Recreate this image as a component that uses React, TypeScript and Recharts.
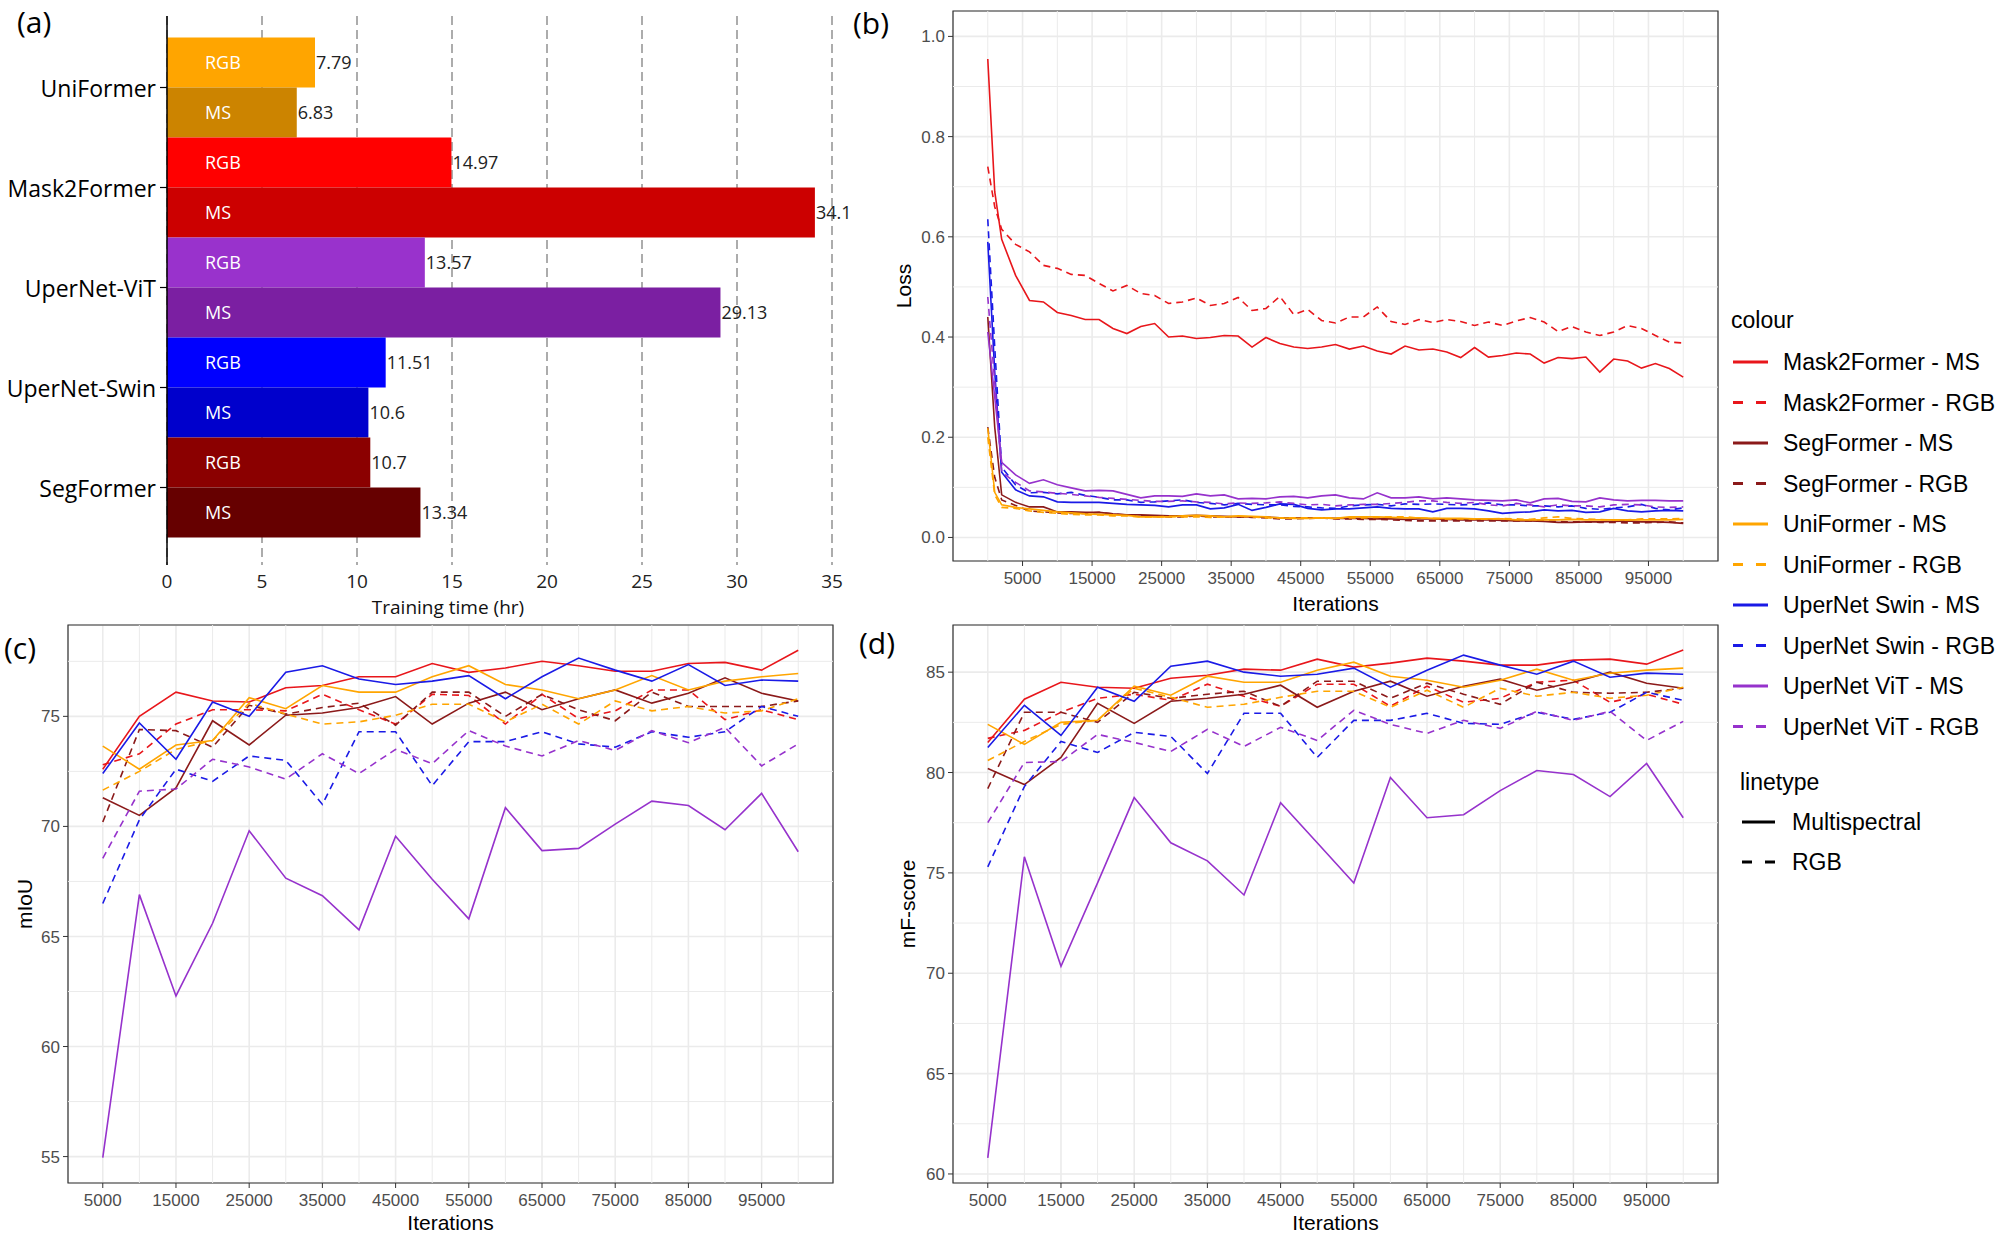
import React from 'react';
import {
  BarChart, Bar, Cell, LabelList, LineChart, Line, XAxis, YAxis,
  CartesianGrid, ReferenceLine, ReferenceArea, Label,
} from 'recharts';

const SANS = '"Liberation Sans", Arial, sans-serif';
const OPEN = '"Open Sans", "Noto Sans", sans-serif';

// ---------- (a) training time ----------
const models = ['UniFormer', 'Mask2Former', 'UperNet-ViT', 'UperNet-Swin', 'SegFormer'];
const rgbHours = [7.79, 14.97, 13.57, 11.51, 10.7];
const msHours = [6.83, 34.1, 29.13, 10.6, 13.34];
const rgbBarColors = ['#FFA500', '#FF0000', '#9932CC', '#0000FF', '#8B0000'];
const msBarColors = ['#CC8400', '#CC0000', '#7B1FA2', '#0000CC', '#660000'];
const hourTicks = [0, 5, 10, 15, 20, 25, 30, 35];

const barRows = models.flatMap((m, i) => [
  { key: m + ' RGB', mode: 'RGB', hours: rgbHours[i], color: rgbBarColors[i] },
  { key: m + ' MS', mode: 'MS', hours: msHours[i], color: msBarColors[i] },
]);

// ---------- series ----------
const seriesKeys = ['m2fMS', 'm2fRGB', 'segMS', 'segRGB', 'uniMS', 'uniRGB', 'swinMS', 'swinRGB', 'vitMS', 'vitRGB'];
const seriesNames = [
  'Mask2Former - MS', 'Mask2Former - RGB', 'SegFormer - MS', 'SegFormer - RGB',
  'UniFormer - MS', 'UniFormer - RGB', 'UperNet Swin - MS', 'UperNet Swin - RGB',
  'UperNet ViT - MS', 'UperNet ViT - RGB',
];
const seriesColors = ['#E8161B', '#E8161B', '#8B1A1A', '#8B1A1A', '#FFA500', '#FFA500', '#1A1AE6', '#1A1AE6', '#9632CC', '#9632CC'];
const seriesDashed = [false, true, false, true, false, true, false, true, false, true];

const iterTicks = [5000, 15000, 25000, 35000, 45000, 55000, 65000, 75000, 85000, 95000];

// ---------- (b) loss ----------
const lossIters = [0, 1000, 2000, 4000, 6000, 8000, 10000, 12000, 14000, 16000, 18000, 20000, 22000, 24000, 26000,
  28000, 30000, 32000, 34000, 36000, 38000, 40000, 42000, 44000, 46000, 48000, 50000, 52000, 54000, 56000, 58000,
  60000, 62000, 64000, 66000, 68000, 70000, 72000, 74000, 76000, 78000, 80000, 82000, 84000, 86000, 88000, 90000,
  92000, 94000, 96000, 98000, 100000];
const lossM2fMS = [0.955, 0.69, 0.595, 0.523, 0.473, 0.47, 0.449, 0.443, 0.435, 0.435, 0.417, 0.407, 0.421, 0.427, 0.40,
  0.402, 0.397, 0.399, 0.403, 0.402, 0.38, 0.399, 0.387, 0.38, 0.377, 0.38, 0.385, 0.376, 0.382, 0.372, 0.366, 0.382,
  0.374, 0.376, 0.37, 0.359, 0.379, 0.36, 0.363, 0.368, 0.366, 0.348, 0.359, 0.357, 0.36, 0.33, 0.356, 0.352, 0.338,
  0.347, 0.337, 0.32];
const lossM2fRGB = [0.74, 0.66, 0.615, 0.585, 0.57, 0.543, 0.537, 0.525, 0.523, 0.507, 0.492, 0.503, 0.487, 0.483, 0.467,
  0.47, 0.478, 0.463, 0.467, 0.479, 0.453, 0.457, 0.481, 0.445, 0.455, 0.433, 0.428, 0.44, 0.44, 0.46, 0.431, 0.425,
  0.435, 0.429, 0.435, 0.431, 0.423, 0.43, 0.423, 0.432, 0.439, 0.43, 0.411, 0.421, 0.41, 0.403, 0.41, 0.423, 0.417,
  0.403, 0.39, 0.388];
const lossSegMS = [0.44, 0.22, 0.085, 0.07, 0.061, 0.061, 0.051, 0.051, 0.05, 0.05, 0.047, 0.045, 0.045, 0.044, 0.043,
  0.043, 0.044, 0.043, 0.042, 0.041, 0.041, 0.041, 0.039, 0.039, 0.039, 0.039, 0.038, 0.038, 0.038, 0.037, 0.037, 0.036,
  0.037, 0.037, 0.036, 0.035, 0.035, 0.035, 0.034, 0.033, 0.033, 0.032, 0.03, 0.03, 0.031, 0.031, 0.032, 0.033, 0.031,
  0.031, 0.03, 0.028];
const lossSegRGB = [0.22, 0.12, 0.075, 0.064, 0.053, 0.051, 0.049, 0.048, 0.048, 0.05, 0.047, 0.045, 0.043, 0.042, 0.041,
  0.041, 0.043, 0.041, 0.041, 0.041, 0.04, 0.039, 0.037, 0.037, 0.038, 0.039, 0.037, 0.037, 0.036, 0.036, 0.035, 0.034,
  0.033, 0.033, 0.033, 0.033, 0.033, 0.033, 0.033, 0.033, 0.033, 0.033, 0.032, 0.031, 0.031, 0.03, 0.03, 0.029, 0.029,
  0.03, 0.031, 0.029];
const lossUniMS = [0.218, 0.09, 0.065, 0.06, 0.057, 0.054, 0.051, 0.049, 0.047, 0.046, 0.045, 0.044, 0.041, 0.041, 0.041,
  0.043, 0.044, 0.043, 0.041, 0.043, 0.042, 0.041, 0.039, 0.038, 0.038, 0.039, 0.038, 0.041, 0.041, 0.041, 0.04, 0.039,
  0.039, 0.038, 0.038, 0.038, 0.037, 0.037, 0.037, 0.035, 0.035, 0.035, 0.035, 0.036, 0.035, 0.035, 0.035, 0.035, 0.035,
  0.035, 0.035, 0.036];
const lossUniRGB = [0.20, 0.085, 0.06, 0.058, 0.053, 0.05, 0.048, 0.046, 0.045, 0.045, 0.043, 0.043, 0.041, 0.041, 0.042,
  0.041, 0.041, 0.04, 0.041, 0.042, 0.041, 0.039, 0.039, 0.039, 0.039, 0.039, 0.039, 0.039, 0.039, 0.04, 0.041, 0.041,
  0.039, 0.038, 0.037, 0.037, 0.037, 0.037, 0.038, 0.037, 0.036, 0.039, 0.041, 0.038, 0.037, 0.036, 0.035, 0.035, 0.037,
  0.037, 0.037, 0.038];
const lossSwinMS = [0.59, 0.33, 0.13, 0.095, 0.083, 0.081, 0.071, 0.07, 0.07, 0.07, 0.068, 0.066, 0.065, 0.064, 0.061,
  0.065, 0.065, 0.057, 0.059, 0.066, 0.054, 0.06, 0.067, 0.066, 0.058, 0.055, 0.057, 0.057, 0.059, 0.061, 0.058, 0.057,
  0.057, 0.051, 0.058, 0.058, 0.057, 0.053, 0.048, 0.05, 0.051, 0.055, 0.053, 0.054, 0.05, 0.051, 0.058, 0.053, 0.051,
  0.053, 0.054, 0.053];
const lossSwinRGB = [0.635, 0.38, 0.14, 0.105, 0.089, 0.09, 0.087, 0.09, 0.084, 0.08, 0.075, 0.075, 0.07, 0.071, 0.073,
  0.075, 0.07, 0.068, 0.065, 0.068, 0.066, 0.065, 0.065, 0.062, 0.061, 0.059, 0.058, 0.063, 0.065, 0.066, 0.063, 0.067,
  0.066, 0.067, 0.066, 0.065, 0.066, 0.069, 0.065, 0.065, 0.063, 0.063, 0.061, 0.063, 0.058, 0.056, 0.059, 0.061, 0.066,
  0.058, 0.055, 0.059];
const lossVitMS = [0.41, 0.28, 0.15, 0.125, 0.108, 0.115, 0.105, 0.099, 0.093, 0.094, 0.093, 0.086, 0.079, 0.083, 0.083,
  0.082, 0.087, 0.083, 0.085, 0.077, 0.078, 0.077, 0.081, 0.082, 0.079, 0.083, 0.085, 0.079, 0.077, 0.089, 0.079, 0.079,
  0.081, 0.077, 0.079, 0.077, 0.075, 0.074, 0.073, 0.075, 0.069, 0.077, 0.078, 0.072, 0.071, 0.079, 0.075, 0.073, 0.074,
  0.074, 0.073, 0.073];
const lossVitRGB = [0.48, 0.31, 0.13, 0.11, 0.093, 0.091, 0.088, 0.086, 0.083, 0.08, 0.078, 0.076, 0.074, 0.072, 0.072,
  0.073, 0.071, 0.07, 0.067, 0.069, 0.068, 0.069, 0.071, 0.068, 0.065, 0.066, 0.063, 0.065, 0.066, 0.066, 0.068, 0.07,
  0.073, 0.073, 0.07, 0.068, 0.07, 0.065, 0.063, 0.068, 0.065, 0.061, 0.065, 0.063, 0.063, 0.061, 0.065, 0.066, 0.065,
  0.061, 0.06, 0.061];

// ---------- (c) mIoU and (d) mF-score ----------
const evalIters = [5000, 10000, 15000, 20000, 25000, 30000, 35000, 40000, 45000, 50000, 55000, 60000, 65000, 70000,
  75000, 80000, 85000, 90000, 95000, 100000];

const miouM2fMS = [72.6, 75.0, 76.1, 75.7, 75.65, 76.3, 76.4, 76.8, 76.8, 77.4, 77.0, 77.2, 77.5, 77.3, 77.05, 77.05, 77.4, 77.45, 77.1, 78.0];
const miouM2fRGB = [72.8, 73.3, 74.65, 75.3, 75.3, 75.25, 76.0, 75.3, 74.65, 76.0, 75.95, 74.65, 76.0, 74.9, 75.25, 76.2, 76.2, 74.85, 75.3, 74.85];
const miouSegMS = [71.3, 70.5, 71.75, 74.8, 73.7, 75.05, 75.15, 75.4, 75.9, 74.65, 75.6, 76.1, 75.3, 75.8, 76.2, 75.6, 76.05, 76.75, 76.05, 75.7];
const miouSegRGB = [70.2, 74.4, 74.35, 73.6, 75.5, 75.1, 75.4, 75.6, 74.6, 76.1, 76.1, 75.0, 76.0, 75.3, 74.8, 76.1, 75.45, 75.45, 75.45, 75.7];
const miouUniMS = [73.65, 72.6, 73.7, 73.9, 75.85, 75.35, 76.4, 76.1, 76.1, 76.8, 77.3, 76.45, 76.2, 75.8, 76.2, 76.85, 76.2, 76.6, 76.8, 76.95];
const miouUniRGB = [71.65, 72.5, 73.5, 73.9, 75.6, 75.1, 74.65, 74.75, 75.05, 75.55, 75.55, 74.75, 75.55, 74.65, 75.7, 75.25, 75.45, 75.15, 75.25, 75.8];
const miouSwinMS = [72.4, 74.7, 73.05, 75.65, 75.0, 77.0, 77.3, 76.7, 76.45, 76.6, 76.85, 75.8, 76.8, 77.65, 77.1, 76.6, 77.35, 76.4, 76.65, 76.6];
const miouSwinRGB = [66.5, 70.3, 72.6, 72.05, 73.2, 73.0, 71.0, 74.3, 74.3, 71.85, 73.85, 73.85, 74.3, 73.75, 73.6, 74.3, 74.05, 74.3, 75.45, 75.0];
const miouVitMS = [54.95, 66.9, 62.3, 65.6, 69.8, 67.65, 66.85, 65.3, 69.55, 67.6, 65.8, 70.85, 68.9, 69.0, 70.1, 71.15, 70.95, 69.85, 71.5, 68.85];
const miouVitRGB = [68.55, 71.6, 71.7, 73.05, 72.7, 72.15, 73.3, 72.4, 73.5, 72.85, 74.35, 73.65, 73.2, 73.9, 73.45, 74.35, 73.8, 74.5, 72.75, 73.75];

const mfM2fMS = [81.5, 83.65, 84.5, 84.25, 84.2, 84.7, 84.85, 85.15, 85.1, 85.65, 85.25, 85.45, 85.7, 85.55, 85.35, 85.35, 85.6, 85.65, 85.4, 86.1];
const mfM2fRGB = [81.7, 82.1, 83.0, 83.7, 83.9, 83.6, 84.4, 83.8, 83.3, 84.4, 84.4, 83.3, 84.3, 83.5, 83.7, 84.5, 84.6, 83.5, 83.9, 83.4];
const mfSegMS = [80.2, 79.4, 80.75, 83.45, 82.45, 83.55, 83.7, 83.9, 84.35, 83.25, 84.05, 84.55, 83.8, 84.3, 84.65, 84.1, 84.5, 85.0, 84.45, 84.2];
const mfSegRGB = [79.2, 83.0, 83.0, 82.5, 84.0, 83.7, 83.9, 84.05, 83.3, 84.55, 84.55, 83.7, 84.45, 83.9, 83.4, 84.5, 84.0, 83.95, 84.0, 84.2];
const mfUniMS = [82.4, 81.4, 82.5, 82.6, 84.3, 83.85, 84.8, 84.5, 84.5, 85.1, 85.5, 84.8, 84.6, 84.25, 84.6, 85.15, 84.6, 84.95, 85.1, 85.2];
const mfUniRGB = [80.6, 81.55, 82.4, 82.6, 84.2, 83.75, 83.25, 83.4, 83.75, 84.05, 84.05, 83.25, 84.1, 83.25, 84.2, 83.8, 84.0, 83.7, 83.85, 84.25];
const mfSwinMS = [81.25, 83.35, 81.85, 84.25, 83.55, 85.3, 85.55, 85.0, 84.8, 84.9, 85.2, 84.25, 85.1, 85.85, 85.35, 84.9, 85.55, 84.75, 84.95, 84.9];
const mfSwinRGB = [75.3, 79.3, 81.55, 81.0, 82.0, 81.8, 79.95, 82.95, 82.95, 80.75, 82.6, 82.6, 82.95, 82.45, 82.4, 83.0, 82.65, 83.0, 84.0, 83.6];
const mfVitMS = [60.8, 75.8, 70.35, 74.5, 78.75, 76.5, 75.6, 73.9, 78.5, 76.5, 74.5, 79.75, 77.75, 77.9, 79.1, 80.1, 79.9, 78.8, 80.45, 77.75];
const mfVitRGB = [77.5, 80.5, 80.55, 81.9, 81.5, 81.05, 82.15, 81.3, 82.25, 81.6, 83.1, 82.4, 81.95, 82.6, 82.2, 83.05, 82.6, 83.05, 81.6, 82.55];

const buildRows = (iters: number[], cols: number[][]) =>
  iters.map((it, i) => {
    const row: Record<string, number> = { iter: it };
    seriesKeys.forEach((k, j) => { row[k] = cols[j][i]; });
    return row;
  });

const lossRows = buildRows(lossIters, [lossM2fMS, lossM2fRGB, lossSegMS, lossSegRGB, lossUniMS, lossUniRGB, lossSwinMS, lossSwinRGB, lossVitMS, lossVitRGB]);
const miouRows = buildRows(evalIters, [miouM2fMS, miouM2fRGB, miouSegMS, miouSegRGB, miouUniMS, miouUniRGB, miouSwinMS, miouSwinRGB, miouVitMS, miouVitRGB]);
const mfRows = buildRows(evalIters, [mfM2fMS, mfM2fRGB, mfSegMS, mfSegRGB, mfUniMS, mfUniRGB, mfSwinMS, mfSwinRGB, mfVitMS, mfVitRGB]);

// ---------- components ----------
const ModelTick = (props: any) => {
  const { x, y, index, payload } = props;
  if (index % 2 === 1) return <g />;
  const half = payload && payload.offset ? payload.offset : 25;
  const yy = y + half;
  return (
    <g>
      <line x1={x - 7} x2={x} y1={yy} y2={yy} stroke="#000" strokeWidth={1.2} />
      <text x={x - 11} y={yy} textAnchor="end" dominantBaseline="central" fontSize={23} fontFamily={OPEN} fill="#000">
        {models[index / 2]}
      </text>
    </g>
  );
};

const TrainingTimeChart = () => (
  <BarChart width={870} height={620} data={barRows} layout="vertical" barCategoryGap={0}
    margin={{ top: 16, right: 38, bottom: 0, left: 0 }}>
    <CartesianGrid horizontal={false} stroke="#808080" strokeDasharray="9 5" strokeWidth={1.3} />
    <XAxis type="number" domain={[0, 35]} ticks={hourTicks} interval={0} allowDataOverflow height={55}
      axisLine={false} tickLine={false} tickSize={0} tickMargin={10}
      tick={{ fontSize: 19, fill: '#222', fontFamily: OPEN }}>
      <Label content={(lp: any) => (
        <text x={lp.viewBox.x + 281} y={lp.viewBox.y + lp.viewBox.height - 6} textAnchor="middle"
          fontSize={19} fontFamily={OPEN} fill="#111">Training time (hr)</text>
      )} />
    </XAxis>
    <YAxis type="category" dataKey="key" width={167} interval={0} padding={{ top: 21.5, bottom: 27.5 }}
      axisLine={{ stroke: '#000', strokeWidth: 1.5 }} tickLine={false} tickSize={0} tickMargin={0}
      tick={<ModelTick />} />
    <Bar dataKey="hours" isAnimationActive={false}>
      {barRows.map((r) => <Cell key={r.key} fill={r.color} />)}
      <LabelList dataKey="mode" position="insideLeft" offset={38} fill="#fff" fontSize={18} fontFamily={OPEN} />
      <LabelList dataKey="hours" position="right" offset={1} fill="#222" fontSize={18} fontFamily={OPEN} />
    </Bar>
  </BarChart>
);

type PanelProps = {
  left: number; top: number; width: number; height: number;
  marginTop: number; marginRight: number; yAxisWidth: number; xAxisHeight: number;
  data: Record<string, number>[];
  xDomain: [number, number]; xMinor: number[];
  yDomain: [number, number]; yTicks: number[]; yMinor: number[];
  yFormat: (v: number) => string; yTitle: string; yTitleDx: number; xTitleOffset: number;
};

const MetricChart = (p: PanelProps) => (
  <div style={{ position: 'absolute', left: p.left, top: p.top }}>
    <LineChart width={p.width} height={p.height} data={p.data}
      margin={{ top: p.marginTop, right: p.marginRight, bottom: 0, left: 0 }}>
      <CartesianGrid stroke="#EBEBEB" strokeWidth={1.6} />
      {p.yMinor.map((v) => <ReferenceLine key={'y' + v} y={v} stroke="#EBEBEB" strokeWidth={1} />)}
      {p.xMinor.map((v) => <ReferenceLine key={'x' + v} x={v} stroke="#EBEBEB" strokeWidth={1} />)}
      <XAxis type="number" dataKey="iter" domain={p.xDomain} allowDataOverflow ticks={iterTicks} interval={0}
        height={p.xAxisHeight} axisLine={false} tickLine={{ stroke: '#333' }} tickSize={5} tickMargin={6}
        tick={{ fontSize: 17, fill: '#4D4D4D', fontFamily: SANS }}>
        <Label value="Iterations" position="insideBottom" offset={p.xTitleOffset}
          fontSize={21} fill="#000" fontFamily={SANS} />
      </XAxis>
      <YAxis type="number" domain={p.yDomain} allowDataOverflow ticks={p.yTicks} interval={0} width={p.yAxisWidth}
        axisLine={false} tickLine={{ stroke: '#333' }} tickSize={5} tickMargin={3} tickFormatter={p.yFormat}
        tick={{ fontSize: 17, fill: '#4D4D4D', fontFamily: SANS }}>
        <Label content={(lp: any) => {
          const cx = lp.viewBox.x + p.yTitleDx;
          const cy = lp.viewBox.y + lp.viewBox.height / 2;
          return (
            <text x={cx} y={cy} transform={`rotate(-90 ${cx} ${cy})`} textAnchor="middle" dominantBaseline="central"
              fontSize={21} fontFamily={SANS} fill="#000">{p.yTitle}</text>
          );
        }} />
      </YAxis>
      {seriesKeys.map((k, j) => (
        <Line key={k} dataKey={k} type="linear" stroke={seriesColors[j]} strokeWidth={1.6}
          strokeDasharray={seriesDashed[j] ? '7 5' : undefined} dot={false} activeDot={false}
          isAnimationActive={false} />
      ))}
      <ReferenceArea x1={p.xDomain[0]} x2={p.xDomain[1]} y1={p.yDomain[0]} y2={p.yDomain[1]}
        fill="none" stroke="#333" strokeWidth={1.2} />
    </LineChart>
  </div>
);

const LegendBlock = () => (
  <svg width={284} height={600} style={{ position: 'absolute', left: 1715, top: 290 }}>
    <text x={16} y={30} dominantBaseline="central" fontSize={23} fontFamily={SANS} fill="#000">colour</text>
    {seriesNames.map((name, i) => {
      const cy = 72 + i * 40.5;
      return (
        <g key={name}>
          <line x1={18} x2={53} y1={cy} y2={cy} stroke={seriesColors[i]} strokeWidth={3}
            strokeDasharray={seriesDashed[i] ? '10 13' : undefined} />
          <text x={68} y={cy} dominantBaseline="central" fontSize={23} fontFamily={SANS} fill="#000">{name}</text>
        </g>
      );
    })}
    <text x={25} y={492} dominantBaseline="central" fontSize={23} fontFamily={SANS} fill="#000">linetype</text>
    <line x1={27} x2={60} y1={532} y2={532} stroke="#000" strokeWidth={3} />
    <text x={77} y={532} dominantBaseline="central" fontSize={23} fontFamily={SANS} fill="#000">Multispectral</text>
    <line x1={27} x2={60} y1={572} y2={572} stroke="#000" strokeWidth={3} strokeDasharray="10 13" />
    <text x={77} y={572} dominantBaseline="central" fontSize={23} fontFamily={SANS} fill="#000">RGB</text>
  </svg>
);

const PanelTags = () => (
  <svg width={1999} height={1250} style={{ position: 'absolute', left: 0, top: 0, pointerEvents: 'none' }}>
    <text x={17} y={33} fontSize={30} fontFamily={OPEN} fill="#000">(a)</text>
    <text x={853} y={34} fontSize={30} fontFamily={OPEN} fill="#000">(b)</text>
    <text x={4} y={659} fontSize={30} fontFamily={OPEN} fill="#000">(c)</text>
    <text x={859} y={654} fontSize={30} fontFamily={OPEN} fill="#000">(d)</text>
  </svg>
);

export default function App() {
  return (
    <div style={{ position: 'absolute', left: 0, top: 0, width: 1999, height: 1250, background: '#fff', overflow: 'hidden' }}>
      <div style={{ position: 'absolute', left: 0, top: 0 }}>
        <TrainingTimeChart />
      </div>
      <MetricChart left={850} top={0} width={870} height={620} marginTop={11} marginRight={2}
        yAxisWidth={103} xAxisHeight={59} data={lossRows}
        xDomain={[-5000, 105000]} xMinor={[0, 10000, 20000, 30000, 40000, 50000, 60000, 70000, 80000, 90000, 100000]}
        yDomain={[-0.047, 1.0507]} yTicks={[0, 0.2, 0.4, 0.6, 0.8, 1.0]} yMinor={[0.1, 0.3, 0.5, 0.7, 0.9]}
        yFormat={(v) => v.toFixed(1)} yTitle="Loss" yTitleDx={53} xTitleOffset={9.5} />
      <MetricChart left={0} top={600} width={850} height={650} marginTop={25} marginRight={17}
        yAxisWidth={68} xAxisHeight={67} data={miouRows}
        xDomain={[250, 104750]} xMinor={[10000, 20000, 30000, 40000, 50000, 60000, 70000, 80000, 90000, 100000]}
        yDomain={[53.8, 79.15]} yTicks={[55, 60, 65, 70, 75]} yMinor={[57.5, 62.5, 67.5, 72.5, 77.5]}
        yFormat={(v) => String(v)} yTitle="mIoU" yTitleDx={24} xTitleOffset={20.5} />
      <MetricChart left={850} top={600} width={870} height={650} marginTop={25} marginRight={2}
        yAxisWidth={103} xAxisHeight={67} data={mfRows}
        xDomain={[250, 104750]} xMinor={[10000, 20000, 30000, 40000, 50000, 60000, 70000, 80000, 90000, 100000]}
        yDomain={[59.55, 87.35]} yTicks={[60, 65, 70, 75, 80, 85]} yMinor={[62.5, 67.5, 72.5, 77.5, 82.5]}
        yFormat={(v) => String(v)} yTitle="mF-score" yTitleDx={57} xTitleOffset={20.5} />
      <LegendBlock />
      <PanelTags />
    </div>
  );
}
